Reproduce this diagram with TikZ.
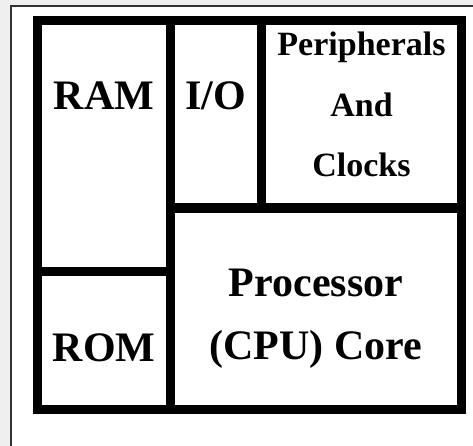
\documentclass[tikz,border=0pt]{standalone}
\usepackage{fontspec}
\setmainfont{Liberation Serif}
\usetikzlibrary{positioning, calc}
\definecolor{pagegray}{HTML}{EFEFEF}
\definecolor{framegray}{HTML}{333333}
\tikzset{
  block/.style={draw=black, line width=9pt},
  biglabel/.style={anchor=base, font=\fontsize{42}{46}\selectfont\bfseries, inner sep=0pt},
  smalllabel/.style={anchor=base, font=\fontsize{34}{38}\selectfont\bfseries, inner sep=0pt}
}
\begin{document}
\begin{tikzpicture}[x=1pt, y=-1pt]
  \useasboundingbox (0,0) rectangle (473,446);
  % page and frame
  \fill[pagegray] (0,0) rectangle (473,446);
  \fill[white] (11,6) rectangle (473,446);
  \draw[framegray, line width=1.5pt] (473,6) -- (11,6) -- (11,446);

  % memory column
  \draw[block] (37.5,20.5) rectangle (170.5,271.5);
  \draw[block] (37.5,271.5) rectangle (170.5,409);
  % upper row
  \draw[block] (170.5,20.5) rectangle (261.5,208);
  \draw[block] (261.5,20.5) rectangle (461.5,208);
  % core
  \draw[block] (170.5,208) rectangle (461.5,409);

  \node[biglabel] (ram) at (104,110) {RAM};
  \node[biglabel] (io) at (216,110) {I/O};
  \node[smalllabel] (periph) at (361.5,56) {Peripherals};
  \node[smalllabel] (and) at (361.5,117) {And};
  \node[smalllabel] (clocks) at (361.5,177) {Clocks};
  \node[biglabel] (rom) at (104,361) {ROM};
  \node[biglabel] (proc) at (316,296) {Processor};
  \node[biglabel] (core) at (316,359) {(CPU) Core};
\end{tikzpicture}
\end{document}
